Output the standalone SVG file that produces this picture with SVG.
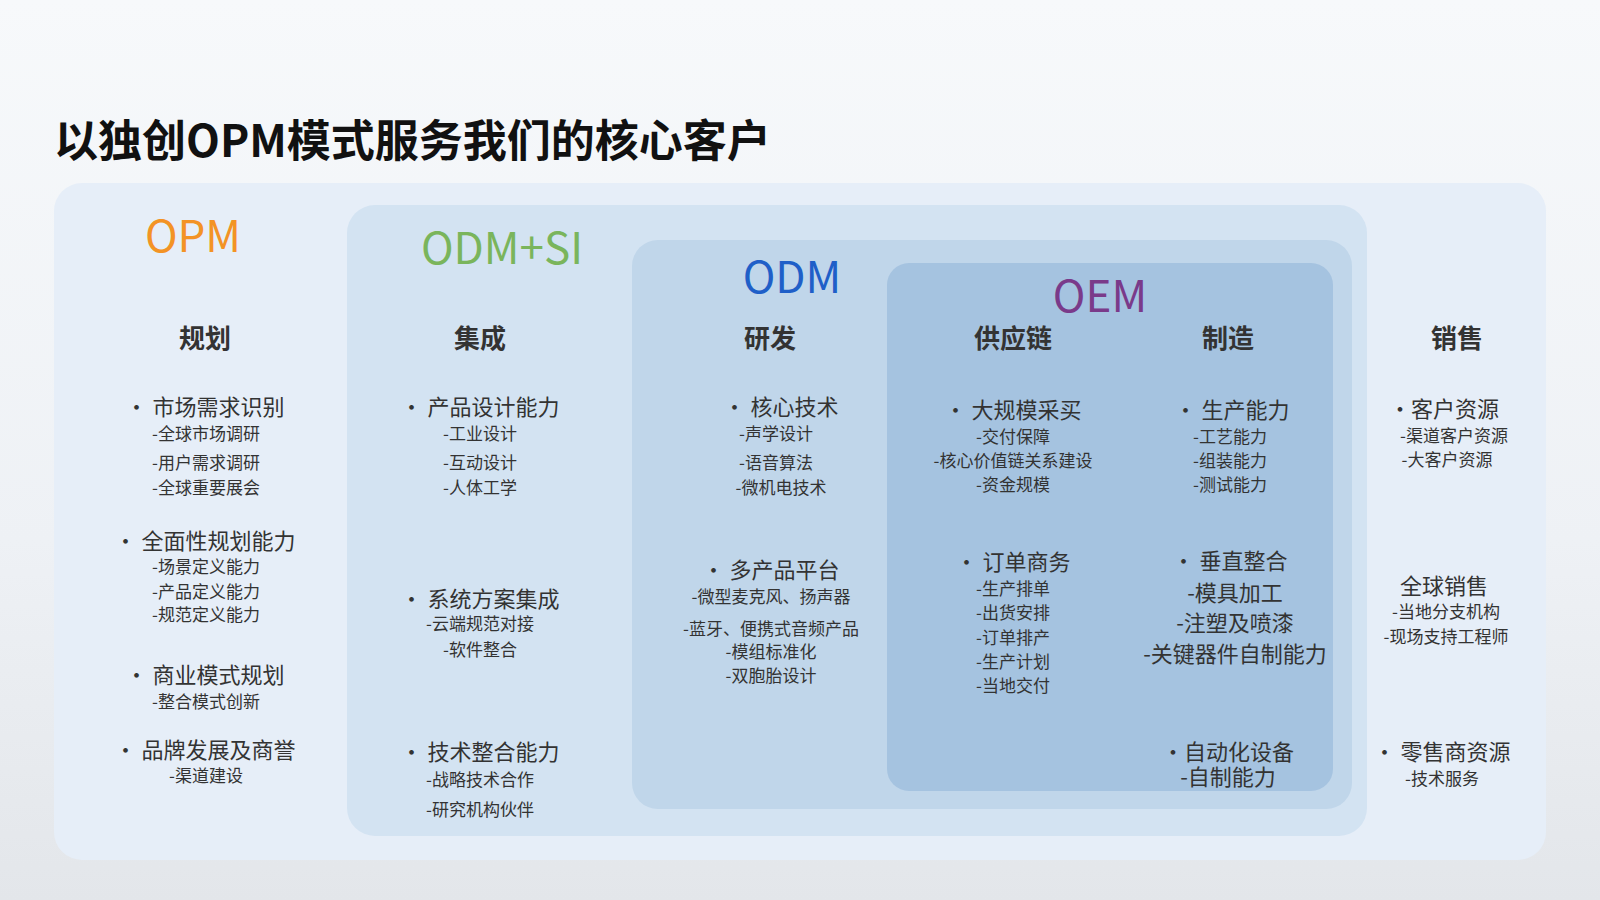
<svg xmlns="http://www.w3.org/2000/svg" width="1600" height="900" viewBox="0 0 1600 900">
<style>
text{font-family:"Noto Sans CJK SC","Noto Sans",sans-serif;fill:#333;text-anchor:middle;dominant-baseline:central}
.t{font-size:44px;font-weight:bold;text-anchor:start;fill:#111}
.h{font-size:44px}
.c{font-size:26px;font-weight:bold}
.i{font-size:22px}
.s{font-size:17px}
</style>
<defs><linearGradient id="bg" x1="0" y1="0" x2="0" y2="1"><stop offset="0" stop-color="#f7f9fb"/><stop offset="0.6" stop-color="#eef1f5"/><stop offset="1" stop-color="#e3e6ea"/></linearGradient></defs>
<rect width="1600" height="900" fill="url(#bg)"/>
<text class="t" x="54" y="138">以独创OPM模式服务我们的核心客户</text>
<g id="panels">
<rect id="opm" x="54" y="183" width="1492" height="677" rx="28" fill="#e6eef8"/>
<rect id="odmsi" x="347" y="205" width="1020" height="631" rx="28" fill="#d3e3f2"/>
<rect id="odm" x="632" y="240" width="720" height="569" rx="26" fill="#c0d6ea"/>
<rect id="oem" x="887" y="263" width="446" height="528" rx="22" fill="#a5c3e0"/>
</g>
<g id="headers">
<text class="h" x="193" y="233" style="fill:#f39325">OPM</text>
<text class="h" x="502" y="245" style="fill:#7ab55c">ODM+SI</text>
<text class="h" x="792" y="274" style="fill:#1f5fc8">ODM</text>
<text class="h" x="1100" y="293" style="fill:#7a3a8a">OEM</text>
<text class="c" x="205" y="336">规划</text>
<text class="c" x="480" y="336">集成</text>
<text class="c" x="770" y="336">研发</text>
<text class="c" x="1013" y="336">供应链</text>
<text class="c" x="1228" y="336">制造</text>
<text class="c" x="1457" y="336">销售</text>
</g>
<g id="col1">
<text class="i" x="205" y="405">• 市场需求识别</text>
<text class="s" x="206" y="432">-全球市场调研</text>
<text class="s" x="206" y="461">-用户需求调研</text>
<text class="s" x="206" y="486">-全球重要展会</text>
<text class="i" x="205" y="539">• 全面性规划能力</text>
<text class="s" x="206" y="565">-场景定义能力</text>
<text class="s" x="206" y="590">-产品定义能力</text>
<text class="s" x="206" y="613">-规范定义能力</text>
<text class="i" x="205" y="673">• 商业模式规划</text>
<text class="s" x="206" y="700">-整合模式创新</text>
<text class="i" x="205" y="748">• 品牌发展及商誉</text>
<text class="s" x="206" y="774">-渠道建设</text>
</g>
<g id="col2">
<text class="i" x="480" y="405">• 产品设计能力</text>
<text class="s" x="480" y="432">-工业设计</text>
<text class="s" x="480" y="461">-互动设计</text>
<text class="s" x="480" y="486">-人体工学</text>
<text class="i" x="480" y="597">• 系统方案集成</text>
<text class="s" x="480" y="622">-云端规范对接</text>
<text class="s" x="480" y="648">-软件整合</text>
<text class="i" x="480" y="750">• 技术整合能力</text>
<text class="s" x="480" y="778">-战略技术合作</text>
<text class="s" x="480" y="808">-研究机构伙伴</text>
</g>
<g id="col3">
<text class="i" x="781" y="405">• 核心技术</text>
<text class="s" x="776" y="432">-声学设计</text>
<text class="s" x="776" y="461">-语音算法</text>
<text class="s" x="781" y="486">-微机电技术</text>
<text class="i" x="771" y="568">• 多产品平台</text>
<text class="s" x="771" y="595">-微型麦克风、扬声器</text>
<text class="s" x="771" y="627">-蓝牙、便携式音频产品</text>
<text class="s" x="771" y="650">-模组标准化</text>
<text class="s" x="771" y="674">-双胞胎设计</text>
</g>
<g id="col4">
<text class="i" x="1013" y="408">• 大规模采买</text>
<text class="s" x="1013" y="435">-交付保障</text>
<text class="s" x="1013" y="459">-核心价值链关系建设</text>
<text class="s" x="1013" y="483">-资金规模</text>
<text class="i" x="1013" y="560">• 订单商务</text>
<text class="s" x="1013" y="587">-生产排单</text>
<text class="s" x="1013" y="611">-出货安排</text>
<text class="s" x="1013" y="636">-订单排产</text>
<text class="s" x="1013" y="660">-生产计划</text>
<text class="s" x="1013" y="684">-当地交付</text>
</g>
<g id="col5">
<text class="i" x="1232" y="408">• 生产能力</text>
<text class="s" x="1230" y="435">-工艺能力</text>
<text class="s" x="1230" y="459">-组装能力</text>
<text class="s" x="1230" y="483">-测试能力</text>
<text class="i" x="1230" y="559">• 垂直整合</text>
<text class="i" x="1235" y="591">-模具加工</text>
<text class="i" x="1235" y="621">-注塑及喷漆</text>
<text class="i" x="1235" y="652">-关键器件自制能力</text>
<text class="i" x="1228" y="750">•自动化设备</text>
<text class="i" x="1228" y="775">-自制能力</text>
</g>
<g id="col6">
<text class="i" x="1444" y="407">•客户资源</text>
<text class="s" x="1454" y="434">-渠道客户资源</text>
<text class="s" x="1447" y="458">-大客户资源</text>
<text class="i" x="1444" y="584">全球销售</text>
<text class="s" x="1446" y="610">-当地分支机构</text>
<text class="s" x="1446" y="635">-现场支持工程师</text>
<text class="i" x="1442" y="750">• 零售商资源</text>
<text class="s" x="1442" y="777">-技术服务</text>
</g>
<g id="connectors"/>
</svg>
